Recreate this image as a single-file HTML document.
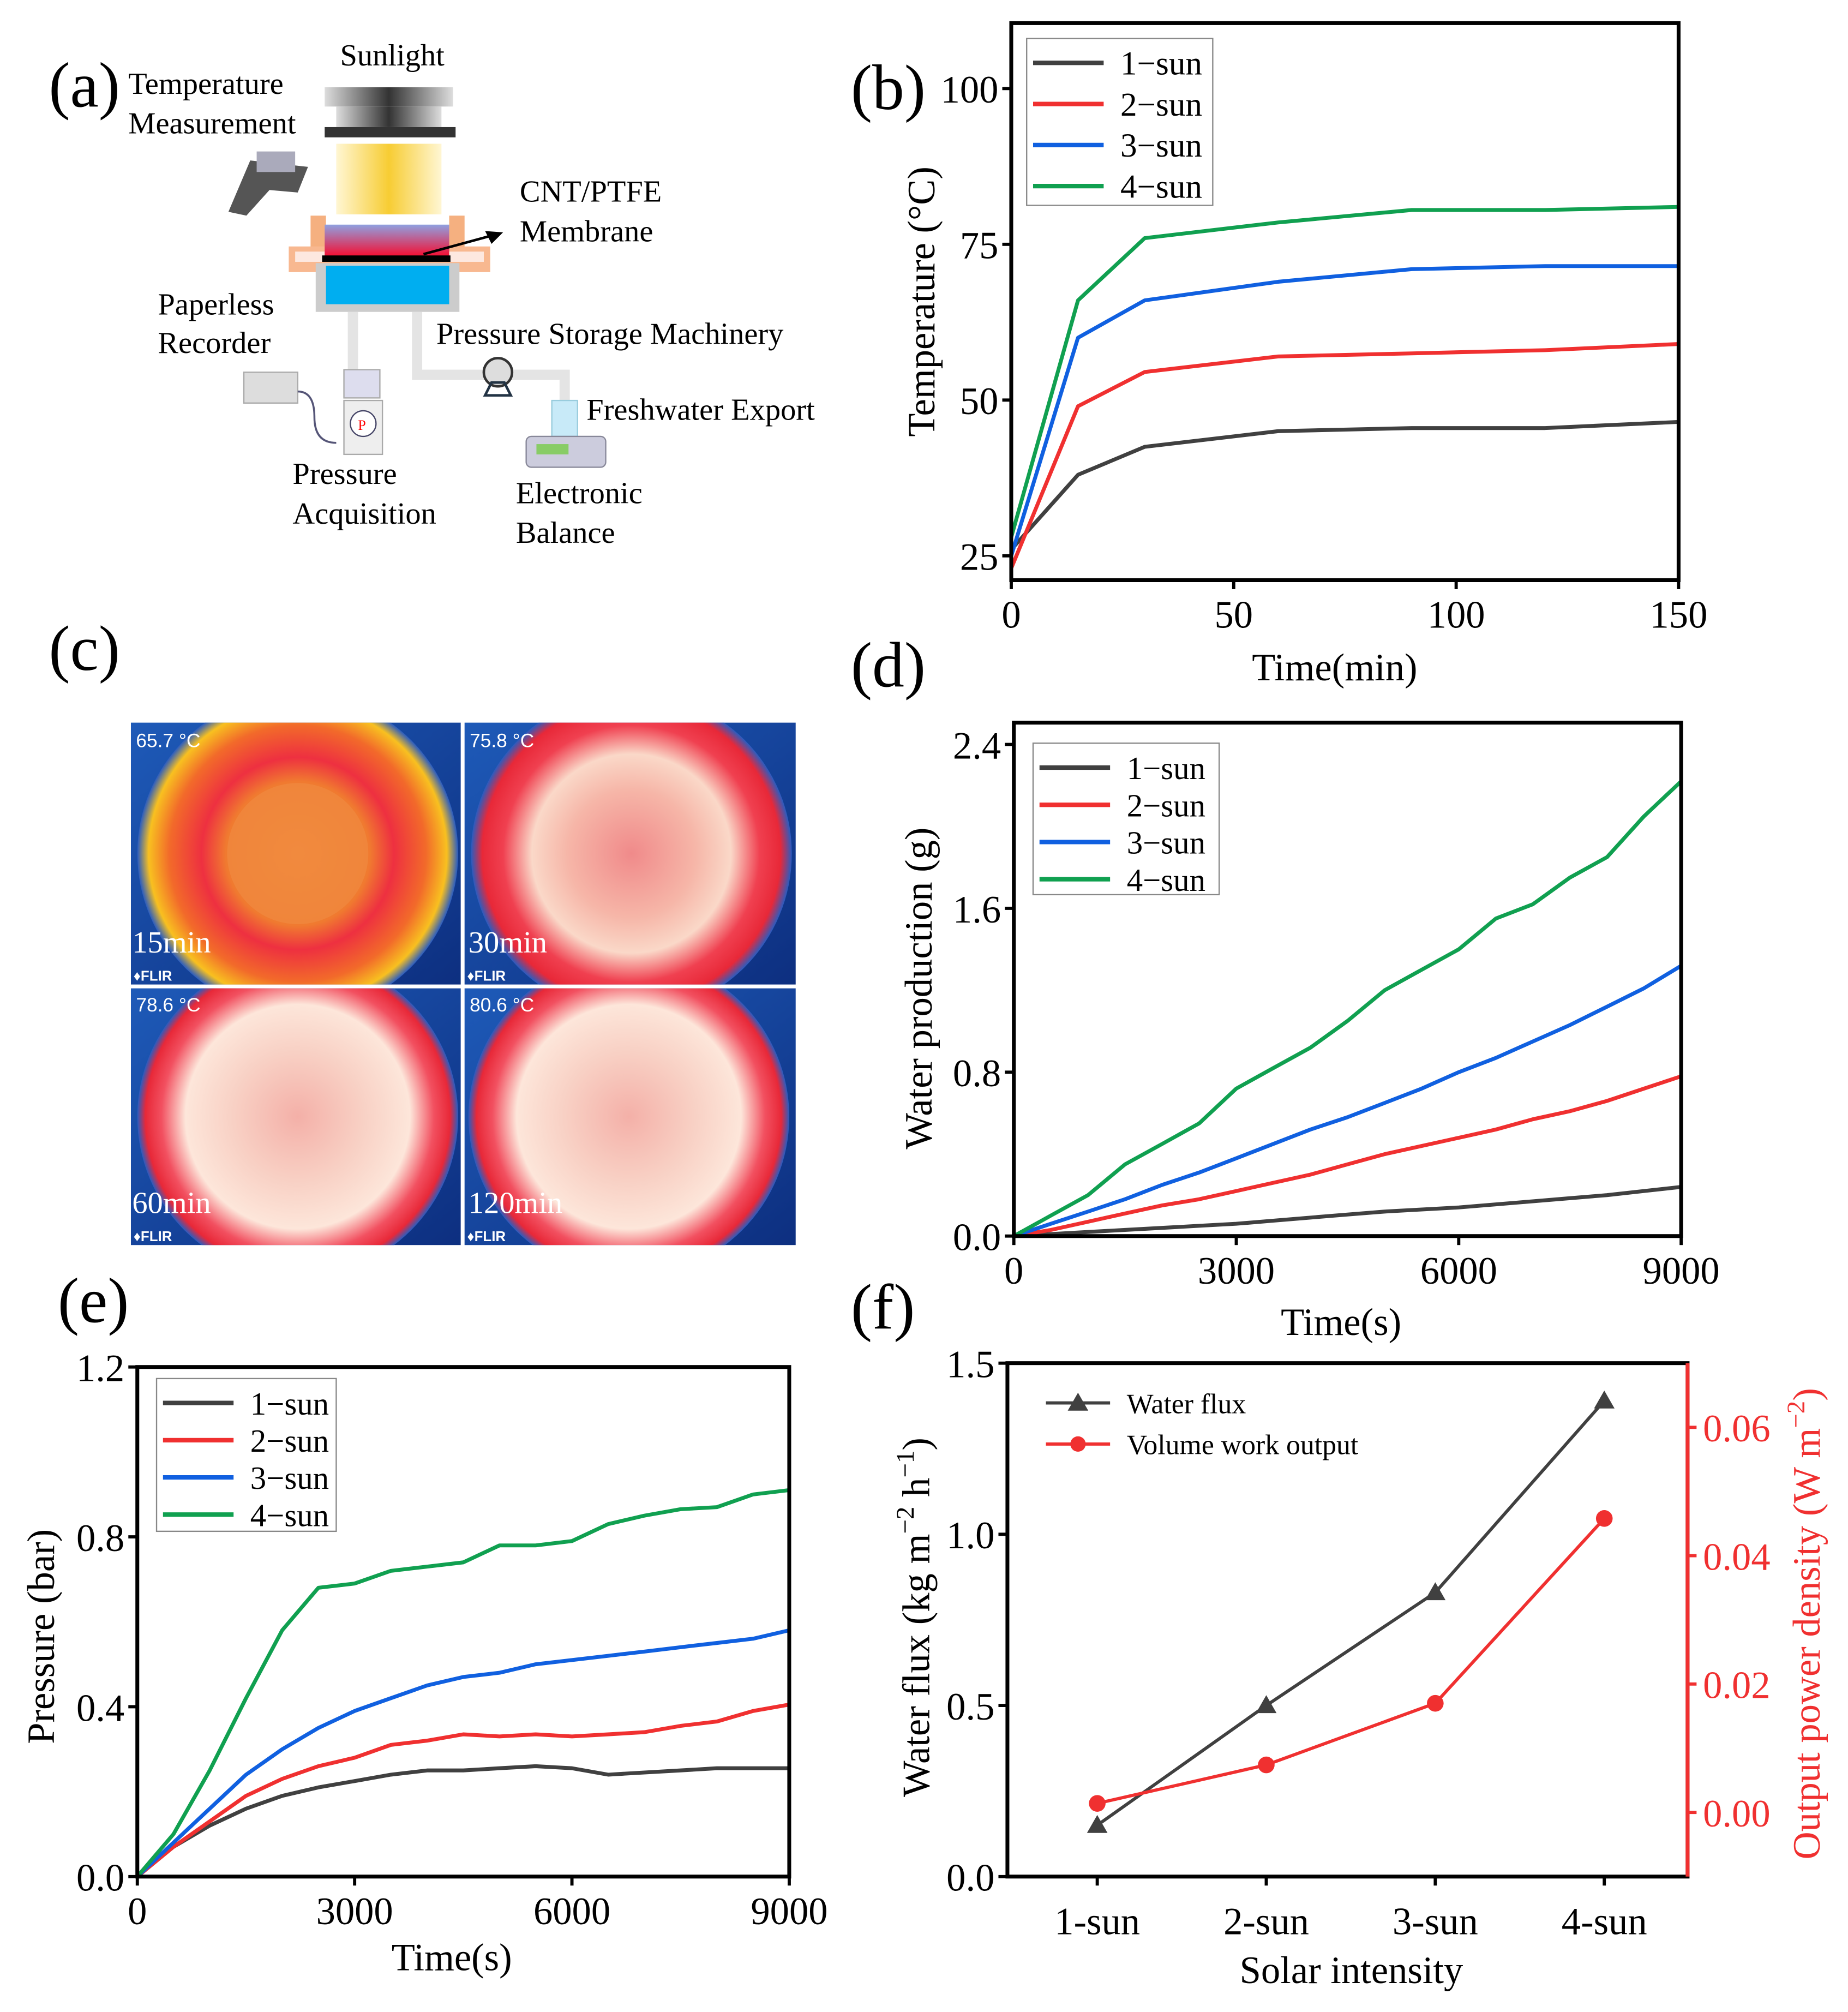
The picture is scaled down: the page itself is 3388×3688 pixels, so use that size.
<!DOCTYPE html>
<html><head><meta charset="utf-8">
<style>
html,body{margin:0;padding:0;background:#fff;}
svg{display:block;font-family:"Liberation Serif",serif;}
</style></head>
<body>
<svg id="fig" width="3388" height="3688" viewBox="0 0 1440 1567.5" xmlns="http://www.w3.org/2000/svg">
<defs>
 <linearGradient id="beam" x1="0" x2="1"><stop offset="0" stop-color="#fff4c8"/><stop offset="0.5" stop-color="#f5c000"/><stop offset="1" stop-color="#fff4c8"/></linearGradient>
 <linearGradient id="lamp" x1="0" x2="1"><stop offset="0" stop-color="#ddd"/><stop offset="0.5" stop-color="#333"/><stop offset="1" stop-color="#ddd"/></linearGradient>
 <linearGradient id="hot" x1="0" y1="0" x2="0" y2="1"><stop offset="0" stop-color="#8fa0e0"/><stop offset="1" stop-color="#ff0020"/></linearGradient>
 <radialGradient id="th1"><stop offset="0" stop-color="#f48a3a"/><stop offset="0.45" stop-color="#f07a30"/><stop offset="0.6" stop-color="#ee3040"/><stop offset="0.8" stop-color="#f26a2a"/><stop offset="0.93" stop-color="#f8c020"/><stop offset="1" stop-color="#2a5cc0"/></radialGradient>
 <radialGradient id="th2"><stop offset="0" stop-color="#f08a8a"/><stop offset="0.4" stop-color="#f6b6a8"/><stop offset="0.62" stop-color="#fad8c8"/><stop offset="0.8" stop-color="#f04050"/><stop offset="0.93" stop-color="#e82838"/><stop offset="1" stop-color="#2a5cc0"/></radialGradient>
 <radialGradient id="th3"><stop offset="0" stop-color="#f4b0a8"/><stop offset="0.4" stop-color="#f8d0c4"/><stop offset="0.7" stop-color="#fde6da"/><stop offset="0.85" stop-color="#f25060"/><stop offset="0.95" stop-color="#e82838"/><stop offset="1" stop-color="#2a5cc0"/></radialGradient>
 <linearGradient id="bg" x1="0" y1="0" x2="1" y2="1"><stop offset="0" stop-color="#1e5ab8"/><stop offset="1" stop-color="#0d2f80"/></linearGradient>
 <clipPath id="c1"><rect x="102" y="563" width="257" height="204"/></clipPath>
 <clipPath id="c2"><rect x="362" y="563" width="258" height="204"/></clipPath>
 <clipPath id="c3"><rect x="102" y="770" width="257" height="200"/></clipPath>
 <clipPath id="c4"><rect x="362" y="770" width="258" height="200"/></clipPath>
</defs>

<!-- Panel a -->
<g>
 <text x="38" y="83" font-size="50">(a)</text>
 <text x="265" y="51" font-size="24">Sunlight</text>
 <text x="100" y="73" font-size="24"><tspan x="100">Temperature</tspan><tspan x="100" dy="31">Measurement</tspan></text>
 <rect x="253" y="68" width="100" height="15" fill="url(#lamp)"/>
 <rect x="262" y="83" width="82" height="16" fill="url(#lamp)"/>
 <rect x="253" y="99" width="102" height="8" fill="#333"/>
 <rect x="262" y="112" width="82" height="55" fill="url(#beam)" opacity="0.8"/>
 <path d="M178 165 L195 125 L240 130 L232 150 L210 148 L192 168 Z" fill="#555"/>
 <rect x="200" y="118" width="30" height="16" fill="#aab"/>
 <rect x="242" y="168" width="12" height="35" fill="#f5b080"/>
 <rect x="350" y="168" width="12" height="35" fill="#f5b080"/>
 <rect x="225" y="192" width="157" height="20" fill="#f8b890"/>
 <rect x="230" y="196" width="147" height="8" fill="#fde8e0"/>
 <rect x="253" y="175" width="97" height="27" fill="url(#hot)"/>
 <rect x="251" y="199" width="100" height="5" fill="#000"/>
 <rect x="246" y="205" width="112" height="38" fill="#ccc"/>
 <rect x="254" y="207" width="96" height="30" fill="#00aef0"/>
 <line x1="330" y1="198" x2="385" y2="183" stroke="#000" stroke-width="2"/>
 <path d="M392 181 L378 180 L383 190 Z" fill="#000"/>
 <text x="405" y="157" font-size="24"><tspan x="405">CNT/PTFE</tspan><tspan x="405" dy="31">Membrane</tspan></text>
 <text x="123" y="245" font-size="24"><tspan x="123">Paperless</tspan><tspan x="123" dy="30">Recorder</tspan></text>
 <path d="M275 243 V295 M325 243 V292 H440 V335" fill="none" stroke="#e4e4e4" stroke-width="8"/>
 <rect x="268" y="288" width="28" height="22" fill="#dde" stroke="#aaa"/>
 <rect x="268" y="312" width="30" height="42" fill="#eee" stroke="#aaa"/>
 <circle cx="283" cy="330" r="10" fill="#fff" stroke="#446"/>
 <text x="279" y="335" font-size="11" fill="red">P</text>
 <rect x="190" y="290" width="42" height="24" fill="#ddd" stroke="#aaa"/>
 <path d="M232 305 Q245 305 245 325 T262 345" fill="none" stroke="#557" stroke-width="1.5"/>
 <circle cx="388" cy="290" r="11" fill="#ddd" stroke="#333" stroke-width="2"/>
 <path d="M378 308 L398 308 L393 298 L383 298 Z" fill="none" stroke="#234" stroke-width="2"/>
 <rect x="430" y="312" width="20" height="28" fill="#c8eaf8" stroke="#9cd"/>
 <rect x="410" y="340" width="62" height="24" rx="4" fill="#ccd" stroke="#889"/>
 <rect x="418" y="346" width="25" height="8" fill="#8c6"/>
 <text x="340" y="268" font-size="24">Pressure Storage Machinery</text>
 <text x="457" y="327" font-size="24">Freshwater Export</text>
 <text x="228" y="377" font-size="24"><tspan x="228">Pressure</tspan><tspan x="228" dy="31">Acquisition</tspan></text>
 <text x="402" y="392" font-size="24"><tspan x="402">Electronic</tspan><tspan x="402" dy="31">Balance</tspan></text>
</g>

<!-- Panel c -->
<g>
 <text x="38" y="522" font-size="50">(c)</text>
 <g>
  <rect x="102" y="563" width="257" height="204" fill="url(#bg)"/>
  <g clip-path="url(#c1)"><circle cx="232" cy="665" r="125" fill="url(#th1)"/>
  <circle cx="232" cy="665" r="55" fill="#f08a40" opacity="0.7"/></g>
  <text x="106" y="582" font-size="15" fill="#fff" font-family="Liberation Sans">65.7 °C</text>
  <text x="103" y="742" font-size="24" fill="#fff">15min</text>
  <text x="104" y="764" font-size="11" fill="#fff" font-family="Liberation Sans" font-weight="bold">♦FLIR</text>
 </g>
 <g>
  <rect x="362" y="563" width="258" height="204" fill="url(#bg)"/>
  <g clip-path="url(#c2)"><circle cx="492" cy="665" r="125" fill="url(#th2)"/></g>
  <text x="366" y="582" font-size="15" fill="#fff" font-family="Liberation Sans">75.8 °C</text>
  <text x="365" y="742" font-size="24" fill="#fff">30min</text>
  <text x="364" y="764" font-size="11" fill="#fff" font-family="Liberation Sans" font-weight="bold">♦FLIR</text>
 </g>
 <g>
  <rect x="102" y="770" width="257" height="200" fill="url(#bg)"/>
  <g clip-path="url(#c3)"><circle cx="232" cy="870" r="125" fill="url(#th3)"/></g>
  <text x="106" y="788" font-size="15" fill="#fff" font-family="Liberation Sans">78.6 °C</text>
  <text x="103" y="945" font-size="24" fill="#fff">60min</text>
  <text x="104" y="967" font-size="11" fill="#fff" font-family="Liberation Sans" font-weight="bold">♦FLIR</text>
 </g>
 <g>
  <rect x="362" y="770" width="258" height="200" fill="url(#bg)"/>
  <g clip-path="url(#c4)"><circle cx="490" cy="870" r="125" fill="url(#th3)"/></g>
  <text x="366" y="788" font-size="15" fill="#fff" font-family="Liberation Sans">80.6 °C</text>
  <text x="365" y="945" font-size="24" fill="#fff">120min</text>
  <text x="364" y="967" font-size="11" fill="#fff" font-family="Liberation Sans" font-weight="bold">♦FLIR</text>
 </g>
</g>

<g id="charts"></g>
</svg>
<script>
// ---------- data ----------
const colors = ['#404040','#f03030','#1060e0','#10a050'];
const seriesNames = ['1-sun','2-sun','3-sun','4-sun'];
// panel b
const bTime = [0,15,30,60,90,120,150];
const bSun1 = [26,38,42.5,45,45.5,45.5,46.5];
const bSun2 = [23,49,54.5,57,57.5,58,59];
const bSun3 = [25,60,66,69,71,71.5,71.5];
const bSun4 = [28,66,76,78.5,80.5,80.5,81];
const bXTicks = [0,50,100,150];
const bYTicks = [25,50,75,100];
// panel d
const dTime = [0,500,1000,1500,2000,2500,3000,3500,4000,4500,5000,5500,6000,6500,7000,7500,8000,8500,9000];
const dSun1 = [0,0.01,0.02,0.03,0.04,0.05,0.06,0.075,0.09,0.105,0.12,0.13,0.14,0.155,0.17,0.185,0.2,0.22,0.24];
const dSun2 = [0,0.03,0.07,0.11,0.15,0.18,0.22,0.26,0.3,0.35,0.4,0.44,0.48,0.52,0.57,0.61,0.66,0.72,0.78];
const dSun3 = [0,0.06,0.12,0.18,0.25,0.31,0.38,0.45,0.52,0.58,0.65,0.72,0.8,0.87,0.95,1.03,1.12,1.21,1.32];
const dSun4 = [0,0.1,0.2,0.35,0.45,0.55,0.72,0.82,0.92,1.05,1.2,1.3,1.4,1.55,1.62,1.75,1.85,2.05,2.22];
const dXTicks = [0,3000,6000,9000];
const dYTicks = [0.0,0.8,1.6,2.4];
// panel e
const eTime = dTime;
const eSun1 = [0,0.07,0.12,0.16,0.19,0.21,0.225,0.24,0.25,0.25,0.255,0.26,0.255,0.24,0.245,0.25,0.255,0.255,0.255];
const eSun2 = [0,0.07,0.13,0.19,0.23,0.26,0.28,0.31,0.32,0.335,0.33,0.335,0.33,0.335,0.34,0.355,0.365,0.39,0.405];
const eSun3 = [0,0.08,0.16,0.24,0.3,0.35,0.39,0.42,0.45,0.47,0.48,0.5,0.51,0.52,0.53,0.54,0.55,0.56,0.58];
const eSun4 = [0,0.1,0.25,0.42,0.58,0.68,0.69,0.72,0.73,0.74,0.78,0.78,0.79,0.83,0.85,0.865,0.87,0.9,0.91];
const eXTicks = [0,3000,6000,9000];
const eYTicks = [0.0,0.4,0.8,1.2];
// panel f
const fCategories = ['1-sun','2-sun','3-sun','4-sun'];
const fWaterFlux = [0.15,0.5,0.83,1.39];
const fPower = [0.0014,0.0074,0.017,0.0458];
const fYTicks = [0.0,0.5,1.0,1.5];
const fY2Ticks = [0.00,0.02,0.04,0.06];

const NS='http://www.w3.org/2000/svg';
const root=document.getElementById('charts');
function mk(tag,attrs,parent){const e=document.createElementNS(NS,tag);for(const k in attrs)e.setAttribute(k,attrs[k]);(parent||root).appendChild(e);return e;}
function lin(d0,d1,r0,r1){return v=>r0+(v-d0)/(d1-d0)*(r1-r0);}

function frame(g,L,R,T,B,rightColor){
  const f=mk('rect',{x:L,y:T,width:R-L,height:B-T,fill:'none',stroke:'#000','stroke-width':3},g);
  
  
  if(rightColor){const r=mk('line',{x1:R,y1:T,x2:R,y2:B,stroke:rightColor,'stroke-width':3},g);
    
    }
}
function xTicks(g,ticks,sx,B,fmt){
  ticks.forEach(t=>{const x=sx(t);
    const l=mk('line',{x1:x,y1:B,x2:x,y2:B+7,stroke:'#000','stroke-width':2.5},g);
    
    
    const tx=mk('text',{x:x,y:B+37,'font-size':30,'text-anchor':'middle'},g);
    tx.textContent=fmt?fmt(t):t;
    
    });
}
function yTicks(g,ticks,sy,L,fmt){
  ticks.forEach(t=>{const y=sy(t);
    const l=mk('line',{x1:L-7,y1:y,x2:L,y2:y,stroke:'#000','stroke-width':2.5},g);
    
    
    const tx=mk('text',{x:L-10,y:y+11,'font-size':30,'text-anchor':'end'},g);
    tx.textContent=fmt?fmt(t):t;
    
    });
}
function series(g,xs,ys,sx,sy,color,name,w){
  const d=xs.map((x,i)=>(i?'L':'M')+sx(x).toFixed(1)+' '+sy(ys[i]).toFixed(1)).join(' ');
  const p=mk('path',{d:d,fill:'none',stroke:color,'stroke-width':w||3,'stroke-linejoin':'round'},g);
  
  
}
function legend(g,x,y,w,h,step,fs){
  const r=mk('rect',{x:x,y:y,width:w,height:h,fill:'#fff',stroke:'#888','stroke-width':1},g);
  
  
  seriesNames.forEach((n,i)=>{const yy=y+19+i*step;
    const l=mk('line',{x1:x+5,y1:yy,x2:x+60,y2:yy,stroke:colors[i],'stroke-width':3.5},g);
    
    
    const t=mk('text',{x:x+73,y:yy+9,'font-size':fs||26},g);
    t.textContent=n.replace('-','\u2212');
    
    });
}
function txt(g,x,y,s,fs,name,extra){const t=mk('text',Object.assign({x:x,y:y,'font-size':fs},extra||{}),g);t.textContent=s;
  
  return t;}

// ---- panel b ----
(function(){
  const g=mk('g',{});
  
  
  const L=788,R=1308,T=18,B=452;
  const sx=lin(0,150,L,R), sy=lin(25,100,433,69);
  [bSun1,bSun2,bSun3,bSun4].forEach((s,i)=>series(g,bTime,s,sx,sy,colors[i],'series-'+seriesNames[i]));
  frame(g,L,R,T,B);
  xTicks(g,bXTicks,sx,B); yTicks(g,bYTicks,sy,L);
  legend(g,800,30,145,130,32);
  txt(g,663,85,'(b)',50,'panel-b-label');
  txt(g,1040,530,'Time(min)',30,'x-axis-title',{'text-anchor':'middle'});
  txt(g,0,0,'Temperature (°C)',30,'y-axis-title',{'text-anchor':'middle',transform:'translate(728,235) rotate(-90)'});
})();
// ---- panel d ----
(function(){
  const g=mk('g',{});
  
  
  const L=790,R=1310,T=563,B=963;
  const sx=lin(0,9000,L,R), sy=lin(0,2.4,963,580);
  [dSun1,dSun2,dSun3,dSun4].forEach((s,i)=>series(g,dTime,s,sx,sy,colors[i],'series-'+seriesNames[i]));
  frame(g,L,R,T,B);
  xTicks(g,dXTicks,sx,B); yTicks(g,dYTicks,sy,L,v=>v.toFixed(1));
  legend(g,805,579,145,118,29,25);
  txt(g,663,535,'(d)',50,'panel-d-label');
  txt(g,1045,1040,'Time(s)',30,'x-axis-title',{'text-anchor':'middle'});
  txt(g,0,0,'Water production (g)',30,'y-axis-title',{'text-anchor':'middle',transform:'translate(726,770) rotate(-90)'});
})();
// ---- panel e ----
(function(){
  const g=mk('g',{});
  
  
  const L=107,R=615,T=1065,B=1462;
  const sx=lin(0,9000,L,R), sy=lin(0,1.2,1462,1065);
  [eSun1,eSun2,eSun3,eSun4].forEach((s,i)=>series(g,eTime,s,sx,sy,colors[i],'series-'+seriesNames[i]));
  frame(g,L,R,T,B);
  xTicks(g,eXTicks,sx,B); yTicks(g,eYTicks,sy,L,v=>v.toFixed(1));
  legend(g,122,1074,140,119,29,25);
  txt(g,45,1030,'(e)',50,'panel-e-label');
  txt(g,352,1535,'Time(s)',30,'x-axis-title',{'text-anchor':'middle'});
  txt(g,0,0,'Pressure (bar)',30,'y-axis-title',{'text-anchor':'middle',transform:'translate(42,1275) rotate(-90)'});
})();
// ---- panel f ----
(function(){
  const g=mk('g',{});
  
  
  const L=785,R=1315,T=1062,B=1462;
  const sx=i=>855+i*131.7, sy=lin(0,1.5,1462,1062), sy2=lin(0,0.06,1412,1112);
  const idx=fCategories.map((c,i)=>i);
  series(g,idx,fWaterFlux,sx,sy,'#404040','series-water-flux',2.5);
  series(g,idx,fPower,sx,sy2,'#f03030','series-volume-work-output',2.5);
  fWaterFlux.forEach((v,i)=>{const x=sx(i),y=sy(v);
    const m=mk('path',{d:`M${x} ${y-8} L${x+8} ${y+6} L${x-8} ${y+6} Z`,fill:'#404040'},g);
    
    });
  fPower.forEach((v,i)=>{const c=mk('circle',{cx:sx(i),cy:sy2(v),r:6.5,fill:'#f03030'},g);
    
    });
  frame(g,L,R,T,B,'#f03030');
  yTicks(g,fYTicks,sy,L,v=>v.toFixed(1));
  fCategories.forEach((c,i)=>{const x=sx(i);
    const l=mk('line',{x1:x,y1:B,x2:x,y2:B+7,stroke:'#000','stroke-width':2.5},g);
    
    
    txt(g,x,B+45,c,30,'x-tick-label',{'text-anchor':'middle'});});
  fY2Ticks.forEach(t=>{const y=sy2(t);
    const l=mk('line',{x1:R,y1:y,x2:R+7,y2:y,stroke:'#f03030','stroke-width':2.5},g);
    
    
    txt(g,R+12,y+11,t.toFixed(2),30,'y2-tick-label',{fill:'#f03030'});});
  // legend
  const l1=mk('line',{x1:815,y1:1093,x2:865,y2:1093,stroke:'#404040','stroke-width':2.5},g);
  
  
  const m1=mk('path',{d:'M840 1085 L848 1099 L832 1099 Z',fill:'#404040'},g);
  
  
  txt(g,878,1101,'Water flux',22,'legend-entry-water-flux');
  const l2=mk('line',{x1:815,y1:1125,x2:865,y2:1125,stroke:'#f03030','stroke-width':2.5},g);
  
  
  const c2=mk('circle',{cx:840,cy:1125,r:6,fill:'#f03030'},g);
  
  
  txt(g,878,1133,'Volume work output',22,'legend-entry-volume-work');
  txt(g,663,1035,'(f)',50,'panel-f-label');
  txt(g,1053,1545,'Solar intensity',30,'x-axis-title',{'text-anchor':'middle'});
  const yt=txt(g,0,0,'',30,'y-axis-title',{'text-anchor':'middle',transform:'translate(724,1260) rotate(-90)'});
  yt.innerHTML='Water flux (kg m<tspan font-size="20" dy="-12">−2</tspan><tspan dy="12"> h</tspan><tspan font-size="20" dy="-12">−1</tspan><tspan dy="12">)</tspan>';
  const yt2=txt(g,0,0,'',30,'y2-axis-title',{'text-anchor':'middle',fill:'#f03030',transform:'translate(1418,1265) rotate(-90)'});
  yt2.innerHTML='Output power density (W m<tspan font-size="20" dy="-12">−2</tspan><tspan dy="12">)</tspan>';
})();
</script>
</body></html>
